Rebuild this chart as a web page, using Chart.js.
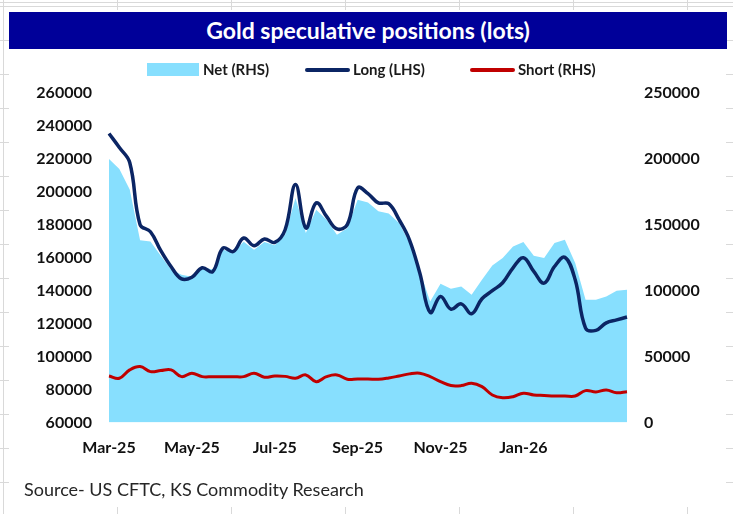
<!DOCTYPE html>
<html>
<head>
<meta charset="utf-8">
<script src="https://cdn.jsdelivr.net/npm/chart.js@4.4.1/dist/chart.umd.min.js"></script>
<style>
  html, body { margin:0; padding:0; }
  body { width:733px; height:514px; position:relative; overflow:hidden; background:#fff;
         font-family: Lato, "Noto Sans", "Liberation Sans", sans-serif; }
  /* excel sheet grid peeking around the chart object */
  .sheet { position:absolute; left:0; top:0; width:733px; height:514px;
    background-image:
      repeating-linear-gradient(to right, #d9d9d9 0 1px, transparent 1px 114px),
      repeating-linear-gradient(to bottom, #d9d9d9 0 1px, transparent 1px 34px);
    background-position: 3px 0, 0 6px; }
  .box { position:absolute; left:9px; top:10px; width:717px; height:497px; background:#fff; }
  #title { position:absolute; left:9px; top:12px; width:718px; height:37px; background:#000099;
           color:#fff; font-weight:bold; font-size:23px; line-height:37px; text-align:center; }
  .lg { position:absolute; font-weight:bold; font-size:15px; color:#1a1a1a; line-height:16px; top:61px; }
  .sw { position:absolute; }
  #src { position:absolute; left:24px; top:478px; font-size:18px; color:#262626; }
  #wrap { position:absolute; left:0; top:0; width:733px; height:514px; }
</style>
</head>
<body>
<div class="sheet"></div>
<div class="box"></div>
<div id="wrap"><canvas id="c" width="733" height="514"></canvas></div>
<div id="title">Gold speculative positions (lots)</div>

<div class="sw" style="left:147px;top:63px;width:52px;height:13px;background:#87dffe"></div>
<div class="lg" style="left:203px">Net (RHS)</div>
<div class="sw" style="left:305px;top:68px;width:45px;height:4px;background:#0b2564;border-radius:2px"></div>
<div class="lg" style="left:353px">Long (LHS)</div>
<div class="sw" style="left:470px;top:68px;width:45px;height:4px;background:#c00000;border-radius:2px"></div>
<div class="lg" style="left:518px">Short (RHS)</div>

<div id="src">Source- US CFTC, KS Commodity Research</div>

<script>
const $ = (s) => document.querySelector(s);

/* ===== data (weekly COT, lots) ===== */
const WEEKS = [
  '2025-03-04','2025-03-11','2025-03-18','2025-03-25','2025-04-01','2025-04-08','2025-04-15','2025-04-22','2025-04-29',
  '2025-05-06','2025-05-13','2025-05-20','2025-05-27','2025-06-03','2025-06-10','2025-06-17','2025-06-24',
  '2025-07-01','2025-07-08','2025-07-15','2025-07-22','2025-07-29','2025-08-05','2025-08-12','2025-08-19','2025-08-26',
  '2025-09-02','2025-09-09','2025-09-16','2025-09-23','2025-09-30','2025-10-07','2025-10-14','2025-10-21','2025-10-28',
  '2025-11-04','2025-11-11','2025-11-18','2025-11-25','2025-12-02','2025-12-09','2025-12-16','2025-12-23','2025-12-30',
  '2026-01-06','2026-01-13','2026-01-20','2026-01-27','2026-02-03','2026-02-10','2026-02-17'
];
const LONG_LHS = [
  235400,226900,217800,180100,175800,164300,154500,147200,148200,153900,
  151500,165900,163800,172000,167300,171400,169300,177000,204400,178100,
  193300,185100,177500,180100,202400,198900,193300,192800,183100,170900,
  150700,126800,136500,128800,132000,126000,135100,140000,144800,153900,
  160000,151700,144600,154700,160300,146600,117300,115900,120500,122300,124000
];
const NET_RHS = [
  200000,192300,176700,138200,137400,126500,115900,112100,110500,118000,
  116000,131100,129000,137200,131100,137000,134500,142400,170400,143800,
  161500,153900,142500,147300,169100,167000,160200,158500,151400,136200,
  115000,91800,105300,101500,103200,96900,108300,119200,124800,133600,
  136900,126500,124800,136200,138700,121000,93100,93100,95600,99900,100700
];
const SHORT_RHS = [
  35300,33600,39900,42400,38600,39400,39900,34800,37400,34800,
  34800,34800,34800,34800,37400,34400,35300,35000,33600,36100,
  31000,34800,36100,32800,33000,33000,32800,33800,35300,36900,
  37400,34800,31000,28000,28000,29800,27200,20900,18800,19600,
  22200,20900,20500,20100,20100,20100,24200,23200,24700,22600,23400
];
// excel text axis: a label every 8th week
const TICK_INDEX  = [0, 8, 16, 24, 32, 40];
const TICK_LABELS = ['Mar-25','May-25','Jul-25','Sep-25','Nov-25','Jan-26'];

/* ===== styles ===== */
const SKY = '#87dffe', NAVY = '#0b2564', RED = '#c00000';
const TICK_FONT = { family:'Lato, "Noto Sans", sans-serif', size:16, weight:'bold' };

new Chart($('#c').getContext('2d'), {
  type:'line',
  data:{ labels:WEEKS, datasets:[
    { label:'Long (LHS)', data:LONG_LHS, yAxisID:'y', borderColor:NAVY, borderWidth:3.5,
      pointRadius:0, tension:0.4, fill:false, order:1 },
    { label:'Short (RHS)', data:SHORT_RHS, yAxisID:'y1', borderColor:RED, borderWidth:3,
      pointRadius:0, tension:0.4, fill:false, order:2 },
    { label:'Net (RHS)', data:NET_RHS, yAxisID:'y1', backgroundColor:SKY, borderWidth:0,
      pointRadius:0, tension:0, fill:'origin', order:3 }
  ]},
  options:{
    responsive:false,
    devicePixelRatio:1,
    animation:false,
    layout:{ padding:{ left:0, right:0, top:93, bottom:51.5 } },
    plugins:{ legend:{display:false}, tooltip:{enabled:false} },
    scales:{
      x:{ type:'category', offset:false,
          afterFit(s){ s.height = 40; },
          grid:{ display:false, drawTicks:false }, border:{ display:false },
          ticks:{ callback:(v,i) => { const k = TICK_INDEX.indexOf(i); return k < 0 ? '' : TICK_LABELS[k]; },
                  autoSkip:false, maxRotation:0, minRotation:0,
                  padding:16, font:TICK_FONT, color:'#111' } },
      y:{ position:'left', min:60000, max:260000,
          afterFit(s){ s.width = 109; },
          grid:{ display:false, drawTicks:false }, border:{ display:false },
          ticks:{ stepSize:20000, padding:17, font:TICK_FONT, color:'#111', callback:(v) => String(v) } },
      y1:{ position:'right', min:0, max:250000,
          afterFit(s){ s.width = 106; },
          grid:{ display:false, drawTicks:false }, border:{ display:false },
          ticks:{ stepSize:50000, padding:17, font:TICK_FONT, color:'#111', callback:(v) => String(v) } }
    }
  }
});
</script>
</body>
</html>
